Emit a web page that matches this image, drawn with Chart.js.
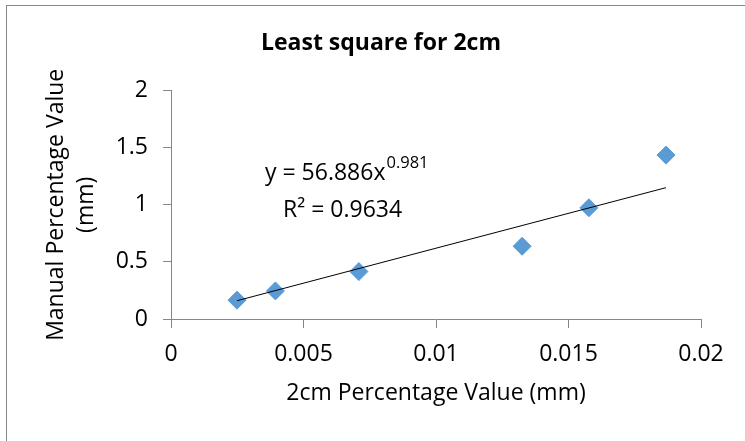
<!DOCTYPE html>
<html><head><meta charset="utf-8">
<script src="https://cdn.jsdelivr.net/npm/chart.js@4/dist/chart.umd.min.js"></script>
<style>html,body{margin:0;padding:0;background:#fff;}canvas{display:block;}</style>
</head><body>
<canvas id="c" width="745" height="441"></canvas>
<script>
// ---- data ----
const X_VALUES = [0.00249, 0.00394, 0.00709, 0.01325, 0.01577, 0.01868];
const Y_VALUES = [0.165, 0.246, 0.415, 0.637, 0.974, 1.435];
const TREND_X = [0.00249, 0.01, 0.01868];
const TREND_Y = [0.16, 0.62, 1.15];
const X_TICK_VALUES = [0, 0.005, 0.01, 0.015, 0.02];
const X_TICK_LABELS = ['0', '0.005', '0.01', '0.015', '0.02'];
const Y_TICK_VALUES = [0, 0.5, 1, 1.5, 2];
const Y_TICK_LABELS = ['0', '0.5', '1', '1.5', '2'];
const TITLE = 'Least square for 2cm';
const X_TITLE = '2cm Percentage Value (mm)';
const Y_TITLE = ['Manual Percentage Value', '(mm)'];
const EQ_MAIN = 'y = 56.886x';
const EQ_EXP = '0.981';
const EQ_R2 = 'R\u00B2 = 0.9634';

const FONT = "'Open Sans', 'Liberation Sans', sans-serif";
const AXIS_COLOR = '#868686';

const points = X_VALUES.map((x, i) => ({x: x, y: Y_VALUES[i]}));
const trend = TREND_X.map((x, i) => ({x: x, y: TREND_Y[i]}));

const framePlugin = {
  id: 'frame',
  beforeDraw(chart) {
    const ctx = chart.ctx;
    ctx.save();
    ctx.fillStyle = '#ffffff';
    ctx.fillRect(0, 0, chart.width, chart.height);
    ctx.strokeStyle = AXIS_COLOR;
    ctx.lineWidth = 1;
    ctx.strokeRect(6.5, 5.5, chart.width + 20, chart.height + 20);
    ctx.restore();
  },
  afterDraw(chart) {
    const ctx = chart.ctx;
    ctx.save();
    ctx.fillStyle = '#000000';
    ctx.textBaseline = 'alphabetic';
    ctx.textAlign = 'left';
    ctx.font = "23px " + FONT;
    const x0 = 265;
    ctx.fillText(EQ_MAIN, x0, 180);
    const w = ctx.measureText(EQ_MAIN).width;
    ctx.font = "16.5px " + FONT;
    ctx.fillText(EQ_EXP, x0 + w + 1, 168);
    ctx.font = "23px " + FONT;
    ctx.fillText(EQ_R2, 283, 217);
    ctx.restore();
  }
};

new Chart(document.getElementById('c'), {
  type: 'scatter',
  data: {
    datasets: [
      {
        label: 'Manual',
        data: points,
        pointStyle: 'rectRot',
        pointRadius: 9,
        pointHoverRadius: 9,
        backgroundColor: '#5B9BD5',
        borderColor: '#5B9BD5',
        borderWidth: 1,
        order: 2
      },
      {
        label: 'Trend',
        data: trend,
        showLine: true,
        pointRadius: 0,
        borderColor: '#000000',
        borderWidth: 1,
        tension: 0,
        fill: false,
        order: 1
      }
    ]
  },
  options: {
    responsive: false,
    animation: false,
    devicePixelRatio: 1,
    layout: {padding: {left: 17, right: 0, top: 0, bottom: 0}},
    plugins: {
      legend: {display: false},
      tooltip: {enabled: false},
      title: {
        display: true,
        text: TITLE,
        color: '#000',
        font: {family: FONT, size: 23, weight: 'bold', lineHeight: 1.2},
        padding: {top: 30, bottom: 33}
      }
    },
    scales: {
      x: {
        type: 'linear',
        min: 0, max: 0.02,
        afterBuildTicks: s => { s.ticks = X_TICK_VALUES.map(v => ({value: v})); },
        afterFit: s => { s.height = 122; s.paddingLeft = 0; s.paddingRight = 44; },
        grid: {display: true, drawOnChartArea: false, drawTicks: true, tickLength: 9, color: AXIS_COLOR, tickColor: AXIS_COLOR},
        border: {display: true, color: AXIS_COLOR, width: 1},
        ticks: {
          color: '#000', padding: 13, maxRotation: 0, autoSkip: false,
          font: {family: FONT, size: 23},
          callback: (v, i) => X_TICK_LABELS[i]
        },
        title: {
          display: true, text: X_TITLE, color: '#000',
          font: {family: FONT, size: 23, lineHeight: 1.2},
          padding: {top: 0, bottom: 34}
        }
      },
      y: {
        type: 'linear',
        min: 0, max: 2,
        afterBuildTicks: s => { s.ticks = Y_TICK_VALUES.map(v => ({value: v})); },
        afterFit: s => { s.width = 154; s.paddingTop = 0; s.paddingBottom = 0; },
        grid: {display: true, drawOnChartArea: false, drawTicks: true, tickLength: 8, color: AXIS_COLOR, tickColor: AXIS_COLOR},
        border: {display: true, color: AXIS_COLOR, width: 1},
        ticks: {
          color: '#000', padding: 15, autoSkip: false,
          font: {family: FONT, size: 23},
          callback: (v, i) => Y_TICK_LABELS[i]
        },
        title: {
          display: true, text: Y_TITLE, color: '#000',
          font: {family: FONT, size: 23, lineHeight: 1.3},
          padding: {top: 25, bottom: 0}
        }
      }
    }
  },
  plugins: [framePlugin]
});
</script>
</body></html>
